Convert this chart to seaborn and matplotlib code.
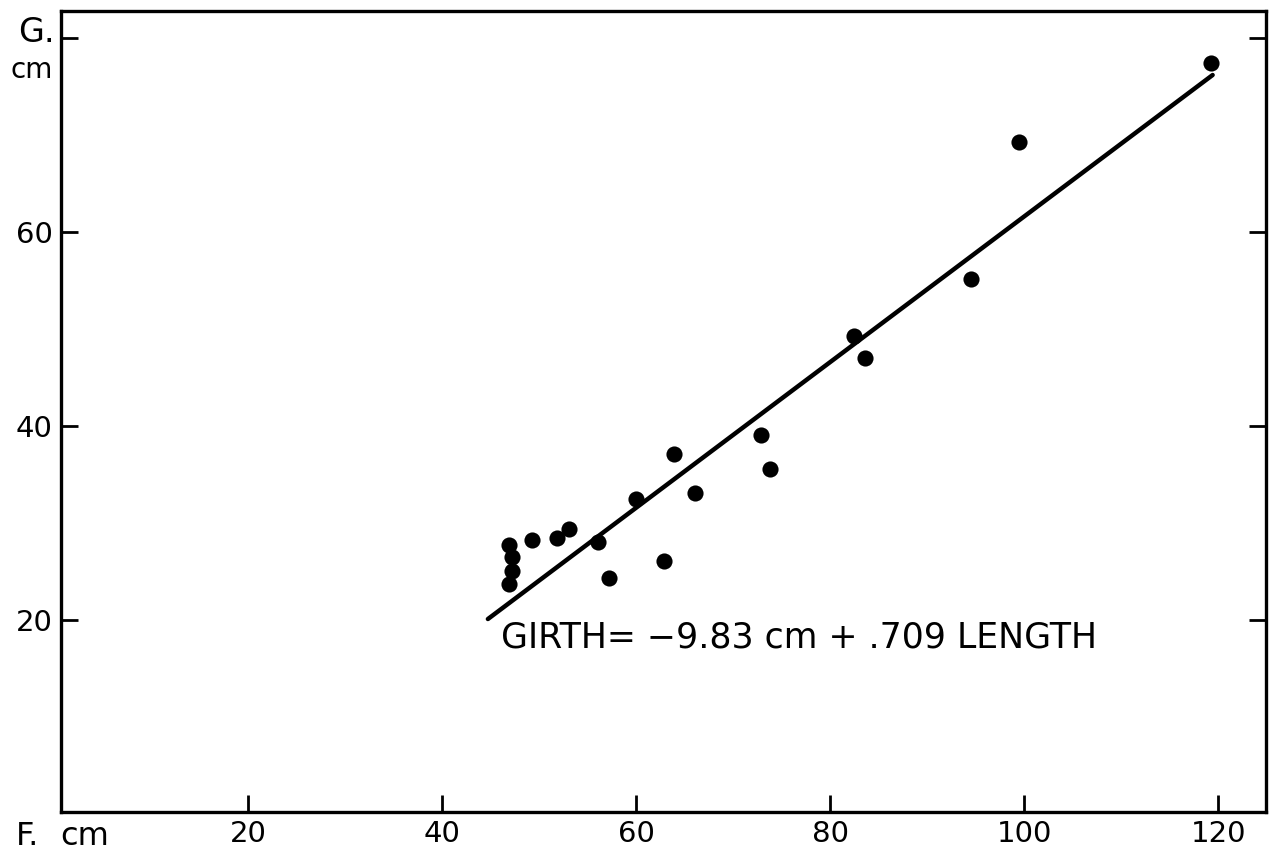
import matplotlib
matplotlib.use("Agg")
import matplotlib.pyplot as plt
import seaborn as sns
import pandas as pd

# Data
length_cm = [46.9, 47.2, 47.2, 46.9, 49.2, 51.8, 53.1, 56.0, 57.2, 60.0,
             62.8, 63.9, 66.0, 72.8, 73.8, 82.4, 83.6, 94.5, 99.4, 119.2]
girth_cm = [27.7, 26.5, 25.1, 23.7, 28.2, 28.5, 29.4, 28.0, 24.3, 32.5,
            26.1, 37.1, 33.1, 39.1, 35.6, 49.3, 47.0, 55.2, 69.3, 77.4]
fit_x = [44.7, 119.4]
fit_y = [20.1, 76.2]
x_ticks = [20, 40, 60, 80, 100, 120]
x_ticklabels = ["20", "40", "60", "80", "100", "120"]
y_ticks = [20, 40, 60, 80]
y_ticklabels = ["20", "40", "60", ""]
equation = "GIRTH= \u22129.83 cm + .709 LENGTH"

sns.set_style("ticks")
plt.rcParams["font.family"] = ["DejaVu Sans"]
plt.rcParams["text.color"] = "black"

df = pd.DataFrame({"length": length_cm, "girth": girth_cm})
fit = pd.DataFrame({"x": fit_x, "y": fit_y})

fig = plt.figure(figsize=(12.73, 8.52), dpi=100)
ax = fig.add_axes([61 / 1273, 40 / 852, (1266 - 61) / 1273, (812 - 11) / 852])

sns.lineplot(data=fit, x="x", y="y", ax=ax, color="black", linewidth=3.2)
sns.scatterplot(data=df, x="length", y="girth", ax=ax, color="black",
                s=135, edgecolor="black", linewidth=0, zorder=3)

ax.set_xlim(0.7, 124.9)
ax.set_ylim(0.2, 82.8)
ax.set_xlabel("")
ax.set_ylabel("")
ax.set_xticks(x_ticks)
ax.set_xticklabels(x_ticklabels)
ax.set_yticks(y_ticks)
ax.set_yticklabels(y_ticklabels)
ax.tick_params(axis="both", direction="in", length=12, width=2, labelsize=21,
               pad=6, colors="black")
ax.tick_params(axis="y", right=True, left=True)
ax.tick_params(axis="x", top=False)
for s in ax.spines.values():
    s.set_visible(True)
    s.set_linewidth(2.4)
    s.set_color("black")

ax.text(46.0, 19.9, equation, fontsize=25, ha="left", va="top", color="black")

fig.text(18 / 1273, 1 - 32 / 852, "G.", fontsize=24, ha="left", va="center", color="black")
fig.text(10 / 1273, 1 - 70 / 852, "cm", fontsize=20, ha="left", va="center", color="black")
fig.text(16 / 1273, 1 - 845 / 852, "F.", fontsize=23, ha="left", va="baseline", color="black")
fig.text(60 / 1273, 1 - 845 / 852, "cm", fontsize=23, ha="left", va="baseline", color="black")

fig.savefig("out.png", dpi=100, facecolor="white")
